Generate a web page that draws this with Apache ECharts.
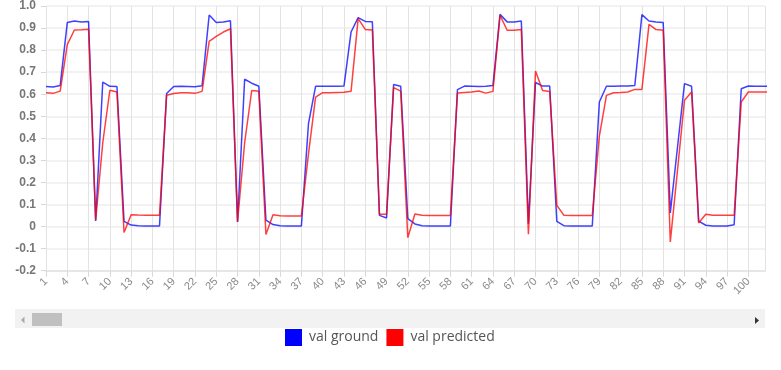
<!DOCTYPE html>
<html>
<head>
<meta charset="utf-8">
<script src="https://cdn.jsdelivr.net/npm/echarts@6/dist/echarts.min.js"></script>
<style>
html,body{margin:0;padding:0;background:#fff;}
#chart{width:781px;height:370px;}
</style>
</head>
<body>
<div id="chart"></div>
<script>
// categories (x-axis labels)
var categories = [1,2,3,4,5,6,7,8,9,10,11,12,13,14,15,16,17,18,19,20,
  21,22,23,24,25,26,27,28,29,30,31,32,33,34,35,36,37,38,39,40,
  41,42,43,44,45,46,47,48,49,50,51,52,53,54,55,56,57,58,59,60,
  61,62,63,64,65,66,67,68,69,70,71,72,73,74,75,76,77,78,79,80,
  81,82,83,84,85,86,87,88,89,90,91,92,93,94,95,96,97,98,99,100,
  101,102,103];

var valGround = [
  0.635,0.633,0.640,0.925,0.932,0.928,0.930,0.025,0.655,0.636,
  0.635,0.024,0.007,0.004,0.003,0.003,0.003,0.603,0.635,0.636,
  0.635,0.634,0.638,0.959,0.925,0.927,0.933,0.021,0.668,0.650,
  0.636,0.029,0.009,0.004,0.003,0.003,0.003,0.467,0.636,0.636,
  0.636,0.636,0.637,0.882,0.947,0.930,0.929,0.051,0.039,0.644,
  0.636,0.036,0.012,0.004,0.003,0.003,0.003,0.003,0.621,0.637,
  0.636,0.635,0.636,0.640,0.962,0.928,0.928,0.932,0.013,0.653,
  0.637,0.637,0.024,0.004,0.003,0.003,0.003,0.003,0.565,0.636,
  0.636,0.637,0.637,0.640,0.961,0.932,0.928,0.925,0.062,0.355,
  0.648,0.636,0.025,0.006,0.003,0.003,0.003,0.008,0.625,0.637,
  0.636,0.636,0.636];

var valPredicted = [
  0.607,0.604,0.614,0.825,0.891,0.892,0.895,0.030,0.380,0.618,
  0.610,-0.027,0.054,0.052,0.051,0.051,0.051,0.595,0.603,0.607,
  0.607,0.604,0.613,0.840,0.862,0.882,0.897,0.022,0.380,0.617,
  0.613,-0.036,0.054,0.049,0.048,0.048,0.048,0.330,0.587,0.607,
  0.607,0.608,0.609,0.613,0.943,0.894,0.891,0.056,0.056,0.630,
  0.614,-0.050,0.057,0.051,0.050,0.050,0.050,0.050,0.606,0.608,
  0.610,0.615,0.605,0.613,0.958,0.890,0.890,0.893,-0.035,0.705,
  0.617,0.612,0.097,0.051,0.050,0.050,0.050,0.050,0.410,0.595,
  0.607,0.608,0.610,0.622,0.622,0.917,0.893,0.890,-0.070,0.250,
  0.573,0.610,0.016,0.056,0.051,0.051,0.051,0.051,0.565,0.610,
  0.610,0.610,0.610];

var yTicks = [-0.2,-0.1,0,0.1,0.2,0.3,0.4,0.5,0.6,0.7,0.8,0.9,1.0];

function pairs(vals){
  return vals.map(function(v,i){ return [categories[i]-1, v]; });
}

var chart = echarts.init(document.getElementById('chart'), null, {renderer:'canvas'});
chart.setOption({
  animation:false,
  backgroundColor:'#ffffff',
  grid:{left:46, top:6, width:719, height:264.7, containLabel:false},
  legend:{
    data:['val ground','val predicted'],
    left:280, top:324,
    icon:'rect', itemWidth:17, itemHeight:17, itemGap:8,
    textStyle:{fontFamily:'Open Sans', fontSize:14, color:'#555', padding:[0,0,0,2]}
  },
  xAxis:{
    type:'value', min:0, max:101.35, interval:3,
    axisLine:{show:true, onZero:false, lineStyle:{color:'#e6e6e6', width:2}},
    axisTick:{show:true, length:6, lineStyle:{color:'#d8d8d8'}},
    axisLabel:{
      rotate:45, fontSize:11, color:'#888', fontFamily:'Liberation Sans', margin:9,
      showMaxLabel:false,
      formatter:function(v){ return String(categories[Math.round(v)]); }
    },
    splitLine:{show:true, lineStyle:{color:'#e3e3e3', width:1}}
  },
  yAxis:{
    type:'value', min:yTicks[0], max:yTicks[yTicks.length-1], interval:0.1,
    axisLine:{show:false},
    axisTick:{show:true, length:5, lineStyle:{color:'#d8d8d8'}},
    axisLabel:{
      fontSize:12, fontWeight:'bold', color:'#777', fontFamily:'Liberation Sans', margin:10,
      formatter:function(v){ var r=Math.round(v*10)/10; return r===0?'0':r.toFixed(1); }
    },
    splitLine:{show:true, lineStyle:{color:'#eeeeee', width:1.5}}
  },
  series:[
    {name:'val ground', type:'line', data:pairs(valGround), showSymbol:false,
     color:'#0000ff', lineStyle:{color:'#0000ff', width:1.5, opacity:0.75}},
    {name:'val predicted', type:'line', data:pairs(valPredicted), showSymbol:false,
     color:'#ff0000', lineStyle:{color:'#ff0000', width:1.5, opacity:0.75}}
  ],
  graphic:[
    {type:'rect', shape:{x:15, y:309, width:750, height:19}, style:{fill:'#f2f2f2'}},
    {type:'rect', shape:{x:32, y:313, width:30, height:13}, style:{fill:'#c0c0c0'}},
    {type:'polygon', shape:{points:[[24.5,316.5],[24.5,323.5],[21,320]]}, style:{fill:'#aaaaaa'}},
    {type:'polygon', shape:{points:[[755,317],[755,324],[759,320.5]]}, style:{fill:'#333333'}}
  ]
});
</script>
</body>
</html>
